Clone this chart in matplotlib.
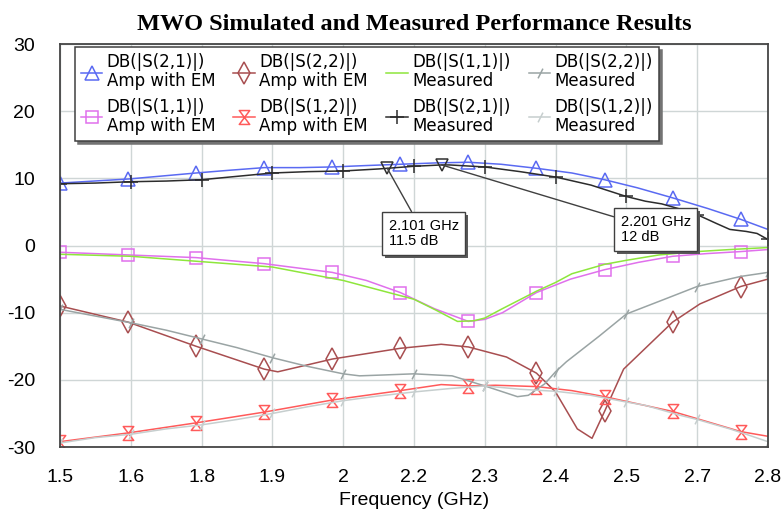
import numpy as np
import matplotlib.pyplot as plt
from matplotlib.path import Path
import matplotlib.patheffects as pe

plt.rcParams['font.family'] = ['Liberation Sans', 'DejaVu Sans']
plt.rcParams['axes.unicode_minus'] = False

# --- simulated curves (Amp with EM), markers every 0.125 GHz ---
f_s21_em = [1.5, 1.625, 1.75, 1.81, 1.875, 1.94, 2.0, 2.06, 2.125, 2.19, 2.25,
            2.31, 2.375, 2.44, 2.5, 2.56, 2.625, 2.69, 2.75, 2.8]
s21_em = [9.3, 9.9, 10.8, 11.2, 11.6, 11.6, 11.7, 11.9, 12.1, 12.3, 12.4,
          12.1, 11.5, 10.8, 9.8, 8.6, 7.1, 5.5, 3.9, 2.4]

f_s11_em = [1.5, 1.625, 1.75, 1.875, 2.0, 2.0625, 2.125, 2.1875, 2.25, 2.28,
            2.3125, 2.375, 2.4375, 2.5, 2.5625, 2.625, 2.6875, 2.75, 2.8]
s11_em = [-1.0, -1.4, -1.8, -2.7, -4.0, -5.2, -7.0, -9.4, -11.3, -11.0,
          -10.0, -7.0, -5.0, -3.6, -2.5, -1.6, -1.2, -0.9, -0.6]

f_s22_em = [1.5, 1.625, 1.75, 1.875, 1.9, 2.0, 2.125, 2.2, 2.25, 2.32, 2.375,
            2.41, 2.45, 2.477, 2.5, 2.535, 2.625, 2.675, 2.75, 2.8]
s22_em = [-9.0, -11.4, -15.0, -18.4, -18.8, -16.9, -15.3, -14.7, -15.1, -16.6,
          -19.0, -21.8, -27.3, -28.7, -24.7, -18.4, -11.4, -8.7, -6.1, -5.0]

f_s12_em = [1.5, 1.625, 1.75, 1.875, 2.0, 2.125, 2.2, 2.25, 2.3, 2.375, 2.44,
            2.5, 2.625, 2.75, 2.8]
s12_em = [-29.2, -27.9, -26.4, -24.8, -23.0, -21.6, -20.7, -20.9, -20.8, -21.0,
          -21.6, -22.5, -24.7, -27.7, -28.4]

# --- measured curves, markers every 0.13 GHz ---
f_s11_meas = [1.5, 1.63, 1.76, 1.89, 2.02, 2.15, 2.19, 2.23, 2.26, 2.28, 2.31,
              2.375, 2.41, 2.44, 2.5, 2.54, 2.6, 2.67, 2.73, 2.8]
s11_meas = [-1.3, -1.6, -2.4, -3.2, -5.2, -8.0, -9.6, -11.3, -11.2, -10.8,
            -9.5, -6.8, -5.5, -4.2, -2.8, -2.2, -1.4, -0.9, -0.6, -0.3]

f_s21_meas = [1.5, 1.565, 1.63, 1.695, 1.76, 1.825, 1.89, 1.955, 2.02, 2.085,
              2.101, 2.15, 2.201, 2.215, 2.28, 2.345, 2.41, 2.475, 2.54, 2.575,
              2.605, 2.64, 2.67, 2.705, 2.73, 2.76, 2.78, 2.8]
s21_meas = [9.2, 9.3, 9.5, 9.6, 9.8, 10.3, 10.8, 11.0, 11.1, 11.4,
            11.5, 11.8, 12.0, 12.0, 11.7, 11.0, 10.2, 9.0, 7.3, 6.6,
            6.2, 5.4, 4.6, 3.3, 2.4, 2.1, 1.8, 0.9]

f_s22_meas = [1.5, 1.565, 1.63, 1.695, 1.76, 1.825, 1.89, 1.955, 2.02, 2.05,
              2.085, 2.15, 2.22, 2.28, 2.34, 2.36, 2.39, 2.41, 2.43, 2.49,
              2.54, 2.61, 2.67, 2.75, 2.8]
s22_meas = [-9.5, -10.5, -11.5, -12.6, -13.9, -15.2, -16.7, -18.0, -19.1, -19.4,
            -19.3, -19.1, -19.4, -20.9, -22.5, -22.3, -20.6, -18.8, -17.3, -13.5,
            -10.2, -8.0, -6.1, -4.6, -4.0]

f_s12_meas = [1.5, 1.565, 1.63, 1.695, 1.76, 1.825, 1.89, 1.955, 2.02, 2.085,
              2.15, 2.215, 2.28, 2.345, 2.41, 2.475, 2.54, 2.575, 2.61, 2.64,
              2.67, 2.7, 2.73, 2.76, 2.8]
s12_meas = [-29.4, -28.6, -28.1, -27.3, -26.7, -25.9, -25.0, -24.0, -23.1, -22.4,
            -21.8, -21.3, -20.9, -21.4, -21.7, -22.3, -23.3, -23.8, -24.6, -25.3,
            -25.9, -26.6, -27.3, -28.1, -29.2]

# markers on the S21 measured trace
marker_f = [2.101, 2.201]
marker_db = [11.5, 12.0]

xtick_labels = ['1.5', '1.6', '1.8', '1.9', '2', '2.2', '2.3', '2.4', '2.5', '2.7', '2.8']
yticks = [-30, -20, -10, 0, 10, 20, 30]


def marks_at(freqs, step):
    k = (np.array(freqs) - 1.5) / step
    return list(np.where(np.isclose(k, np.round(k), atol=1e-3))[0])


hourglass = Path([(-0.75, 1), (0.75, 1), (-0.75, -1), (0.75, -1), (0, 0)],
                 [Path.MOVETO, Path.LINETO, Path.LINETO, Path.LINETO, Path.CLOSEPOLY])
slash = Path([(-0.5, -1), (0.5, 1)], [Path.MOVETO, Path.LINETO])

fig = plt.figure(figsize=(7.84, 5.18), dpi=100)
ax = fig.add_axes([0.0765, 0.137, 0.903, 0.778])

series = [
    # (freqs, values, label, color, marker, size, step)
    (f_s21_em, s21_em, 'DB(|S(2,1)|)\nAmp with EM', '#5a6af2', '^', 10, 0.125),
    (f_s11_em, s11_em, 'DB(|S(1,1)|)\nAmp with EM', '#e070ec', 's', 9, 0.125),
    (f_s22_em, s22_em, 'DB(|S(2,2)|)\nAmp with EM', '#a84e50', 'd', 11, 0.125),
    (f_s12_em, s12_em, 'DB(|S(1,2)|)\nAmp with EM', '#ff5a5a', hourglass, 10, 0.125),
    (f_s11_meas, s11_meas, 'DB(|S(1,1)|)\nMeasured', '#8ee63c', None, 0, 0.13),
    (f_s21_meas, s21_meas, 'DB(|S(2,1)|)\nMeasured', '#2c2c2c', '+', 10, 0.13),
    (f_s22_meas, s22_meas, 'DB(|S(2,2)|)\nMeasured', '#9aa4a4', slash, 7, 0.13),
    (f_s12_meas, s12_meas, 'DB(|S(1,2)|)\nMeasured', '#c6cece', slash, 7, 0.13),
]

handles = []
for f, v, lab, col, mk, ms, step in series:
    line, = ax.plot(f, v, color=col, lw=1.1, marker=mk, ms=ms, mfc='none',
                    mec=col, mew=1.1, markevery=marks_at(f, step), label=lab)
    handles.append(line)

# MWO markers + readouts
ax.plot(marker_f, marker_db, 'v', ms=9, mfc='none', mec='#303030', mew=1.1)
box_pos = [(2.168, 1.8), (2.594, 2.4)]
for (fm, dbm), (bx, by) in zip(zip(marker_f, marker_db), box_pos):
    t = ax.annotate('%.3f GHz\n%g dB' % (fm, dbm), xy=(fm, dbm), xytext=(bx, by),
                    ha='center', va='center', ma='left', fontsize=10.5,
                    linespacing=1.15,
                    bbox=dict(boxstyle='square,pad=0.45', fc='white', ec='#404040', lw=1),
                    arrowprops=dict(arrowstyle='-', color='#404040', lw=1,
                                    shrinkA=0, shrinkB=0))
    t.get_bbox_patch().set_path_effects(
        [pe.withSimplePatchShadow(offset=(2, -2), shadow_rgbFace='0.35', alpha=1)])

ax.set_xlim(1.5, 2.8)
ax.set_ylim(-30, 30)
ax.set_xticks(np.linspace(1.5, 2.8, 11))
ax.set_xticklabels(xtick_labels)
ax.set_yticks(yticks)
ax.tick_params(length=0, labelsize=14)
ax.tick_params(axis='x', pad=16)
ax.tick_params(axis='y', pad=18)
ax.grid(True, color='#cfd6d6', lw=1)
ax.set_axisbelow(True)
for s in ax.spines.values():
    s.set_color('#454545')
    s.set_linewidth(1.3)

ax.set_xlabel('Frequency (GHz)', fontsize=14, labelpad=4)
ax.set_title('MWO Simulated and Measured Performance Results', fontsize=17.5,
             fontweight='bold', family='Liberation Serif', pad=10)

leg = ax.legend(handles=handles, ncol=4, loc='upper left',
                bbox_to_anchor=(0.021, 0.993), borderaxespad=0,
                prop={'family': 'DejaVu Sans', 'size': 12},
                handlelength=1.3, handletextpad=0.25, columnspacing=1.1,
                labelspacing=0.45, borderpad=0.35, frameon=True,
                fancybox=False, shadow={'color': '0.45', 'alpha': 1})
leg.get_frame().set_edgecolor('#404040')
leg.get_frame().set_linewidth(1.1)
for txt in leg.get_texts():
    txt.set_linespacing(1.1)
    txt.set_multialignment('left')

fig.savefig('out.png', dpi=100)
